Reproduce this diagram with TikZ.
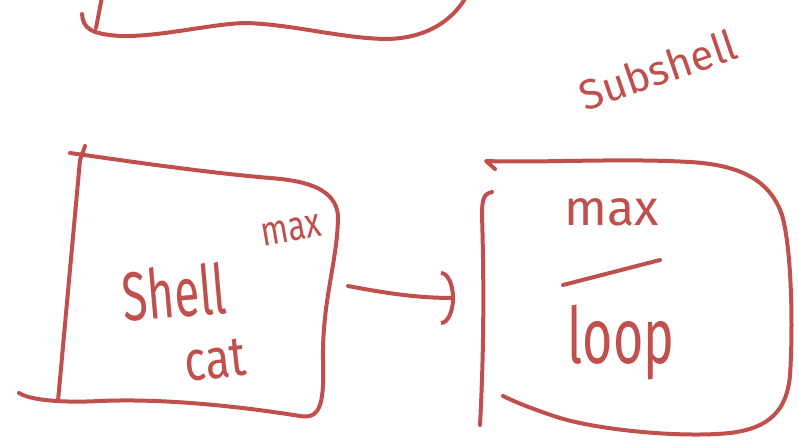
\documentclass[tikz,border=0pt]{standalone}
\usepackage{fontspec}
\setmainfont{Fira Sans}
\usetikzlibrary{arrows.meta}
\definecolor{ink}{HTML}{C0504D}
\begin{document}
\begin{tikzpicture}[x=1pt,y=-1pt,
  inkstroke/.style={draw=ink, line width=4pt, line cap=round, line join=round},
  hand/.style={text=ink, inner sep=0pt},
  fs/.style={font=\fontsize{#1}{#1}\selectfont}]
\useasboundingbox (0,0) rectangle (799,441);
% top partial box
\draw[inkstroke] (102,-3) -- (96,28);
\draw[inkstroke] (82,14) .. controls (83,28) and (90,34) .. (120,36)
  .. controls (160,37) and (210,24) .. (245,23)
  .. controls (290,24) and (340,38) .. (385,39)
  .. controls (420,39) and (450,25) .. (466,-3);
% left box
\draw[inkstroke] (85,146) -- (80,160) -- (58,401);
\draw[inkstroke] (70,153) .. controls (120,160) and (200,172) .. (270,178)
  .. controls (310,181) and (335,190) .. (338,215)
  .. controls (338,260) and (322,300) .. (323,360)
  .. controls (324,400) and (322,420) .. (300,416)
  .. controls (250,408) and (170,398) .. (100,401)
  .. controls (60,403) and (30,400) .. (19,393);
\node[hand, fs=46, rotate=5] (shell) at (174,292) {\scalebox{1}[1.5]{Shell}};
\node[hand, fs=32, rotate=10] (maxl) at (291,230) {\scalebox{1}[1.3]{max}};
\node[hand, fs=45, rotate=6] (cat) at (215,360) {\scalebox{1}[1.25]{cat}};
% arrow
\coordinate (astart) at (348,286);
\coordinate (aend) at (455,298);
\draw[inkstroke, -{Arc Barb[width=54pt, length=14pt]}] (astart) .. controls (390,294) and (420,298) .. (aend);
% right box
\draw[inkstroke] (495,169) -- (486,161) .. controls (540,163) and (620,158) .. (690,162)
  .. controls (740,165) and (770,180) .. (782,215)
  .. controls (792,250) and (793,330) .. (790,375)
  .. controls (787,410) and (770,428) .. (730,433)
  .. controls (680,438) and (600,430) .. (560,418)
  .. controls (535,410) and (515,402) .. (503,396);
\draw[inkstroke] (492,192) .. controls (484,194) and (482,198) .. (482,215)
  .. controls (484,280) and (484,350) .. (480,425);
\node[hand, fs=50] (maxr) at (612,212) {max};
\draw[inkstroke] (563,285) -- (660,260);
\node[hand, fs=52] (loop) at (621,343) {\scalebox{1}[1.5]{loop}};
% label
\node[hand, fs=42, rotate=19] (sub) at (658,70) {Subshell};
\end{tikzpicture}
\end{document}
